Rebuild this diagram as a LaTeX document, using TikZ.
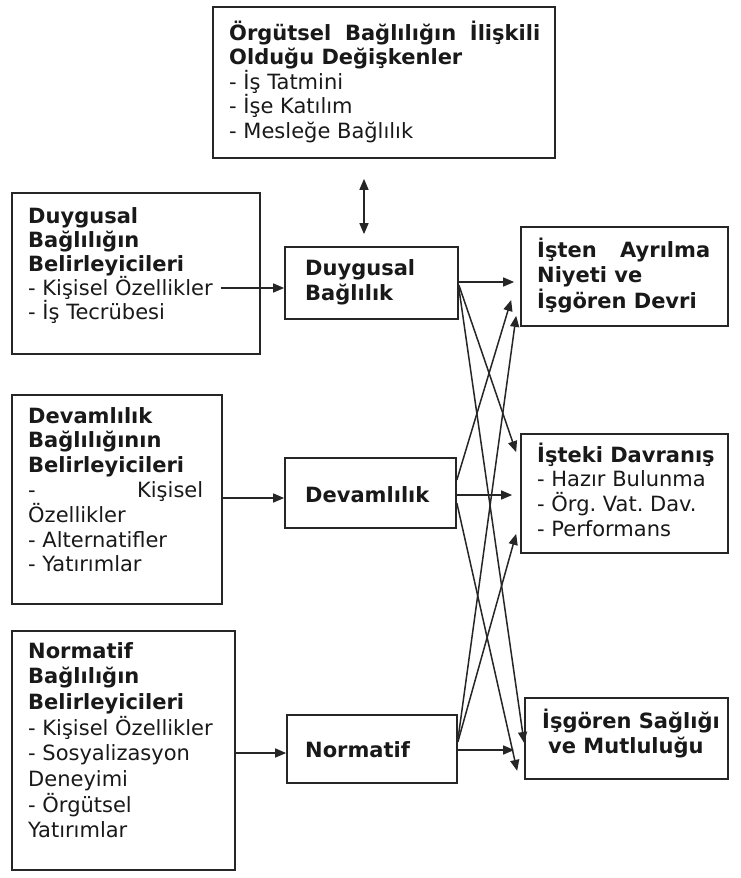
\documentclass[tikz,border=0pt]{standalone}
\usepackage{fontspec}
\setmainfont{DejaVu Sans}
\usetikzlibrary{arrows.meta,calc}
\newcommand\boxtext[3]{\parbox[t]{#1}{\fontsize{21}{#2}\selectfont\frenchspacing\raggedright #3}}
\begin{document}
\begin{tikzpicture}[x=1pt,y=-1pt,
  box/.style={draw=black!85, line width=1.7pt, inner sep=0pt, rectangle},
  lbl/.style={anchor=base west, inner sep=0pt, text=black!90},
  arr/.style={line width=1.5pt, draw=black!85, -{Triangle[length=11pt,width=9pt]}},
  darr/.style={line width=1.5pt, draw=black!85, {Triangle[length=11pt,width=9pt]}-{Triangle[length=11pt,width=9pt]}}
]
\useasboundingbox (0,0) rectangle (740,878);
\fill[white] (0,0) rectangle (740,878);

% boxes
\node[box, minimum width=342pt, minimum height=151pt] (top) at (384,82.5) {};
\node[box, minimum width=248pt, minimum height=161pt] (left1) at (136,273.5) {};
\node[box, minimum width=173pt, minimum height=72pt] (duy) at (371.5,283) {};
\node[box, minimum width=207pt, minimum height=99pt] (isten) at (624.5,276.5) {};
\node[box, minimum width=210pt, minimum height=209pt] (left2) at (117,499.5) {};
\node[box, minimum width=171pt, minimum height=70pt] (dev) at (370.5,493) {};
\node[box, minimum width=207pt, minimum height=119pt] (isteki) at (624.5,493.5) {};
\node[box, minimum width=223pt, minimum height=239pt] (left3) at (123.5,750.5) {};
\node[box, minimum width=170pt, minimum height=68pt] (norm) at (372,749) {};
\node[box, minimum width=203pt, minimum height=81pt] (saglik) at (626.5,738.5) {};

% texts
\node[lbl] (ttop) at (229,40) {\boxtext{320pt}{24.5pt}{%
  \textbf{\makebox[311pt][s]{Örgütsel Bağlılığın İlişkili}}\\
  \textbf{Olduğu Değişkenler}\\
  - İş Tatmini\\
  - İşe Katılım\\
  - Mesleğe Bağlılık}};
\node[lbl] (tleft1) at (28,223) {\boxtext{230pt}{24pt}{%
  \textbf{Duygusal}\\
  \textbf{Bağlılığın}\\
  \textbf{Belirleyicileri}\\
  - Kişisel Özellikler\\
  - İş Tecrübesi}};
\node[lbl] (tduy) at (305,275) {\boxtext{150pt}{25pt}{%
  \textbf{Duygusal}\\
  \textbf{Bağlılık}}};
\node[lbl] (tisten) at (537,257) {\boxtext{185pt}{25.5pt}{%
  \textbf{\makebox[173pt][s]{İşten Ayrılma}}\\
  \textbf{Niyeti ve}\\
  \textbf{İşgören Devri}}};
\node[lbl] (tleft2) at (28,423) {\boxtext{190pt}{24.8pt}{%
  \textbf{Devamlılık}\\
  \textbf{Bağlılığının}\\
  \textbf{Belirleyicileri}\\
  \makebox[175pt][s]{- Kişisel}\\
  Özellikler\\
  - Alternatifler\\
  - Yatırımlar}};
\node[lbl] (tdev) at (305,502) {\boxtext{150pt}{25pt}{\textbf{Devamlılık}}};
\node[lbl] (tisteki) at (537,462) {\boxtext{185pt}{24.7pt}{%
  \textbf{İşteki Davranış}\\
  - Hazır Bulunma\\
  - Örg. Vat. Dav.\\
  - Performans}};
\node[lbl] (tleft3) at (28,658) {\boxtext{205pt}{25.7pt}{%
  \textbf{Normatif}\\
  \textbf{Bağlılığın}\\
  \textbf{Belirleyicileri}\\
  - Kişisel Özellikler\\
  - Sosyalizasyon\\
  Deneyimi\\
  - Örgütsel\\
  Yatırımlar}};
\node[lbl] (tnorm) at (305,757) {\boxtext{150pt}{25pt}{\textbf{Normatif}}};
\node[lbl] (tsaglik) at (542,728) {\boxtext{185pt}{25pt}{%
  \textbf{İşgören Sağlığı}\\
  \hspace*{6pt}\textbf{ve Mutluluğu}}};

% connectors
\draw[arr] ($(left1.east)+(-40,14.5)$) -- ($(duy.west)+(0,5)$);
\draw[arr] ($(left2.east)+(0,-1.5)$) -- ($(dev.west)+(0,5)$);
\draw[arr] ($(left3.east)+(0,2.5)$) -- ($(norm.west)+(0,4)$);
\draw[darr] ($(top.south)+(-20,20)$) -- ($(duy.north)+(-7.5,-12)$);

\draw[arr] ($(duy.east)+(0,-1)$) -- ($(isten.west)+(-6,5.5)$);
\draw[arr] ($(dev.east)+(0,2)$) -- ($(isteki.west)+(-8,1.5)$);
\draw[arr] ($(norm.east)+(0,1)$) -- ($(saglik.west)+(-10,11.5)$);

\draw[arr] ($(duy.east)+(0,2)$) -- ($(isteki.north west)+(-4,19)$);
\draw[arr] ($(duy.east)+(0,5)$) -- ($(saglik.west)+(0,4.5)$);
\draw[arr] ($(dev.east)+(0,-13)$) -- ($(isten.west)+(-9,23.5)$);
\draw[arr] ($(dev.east)+(0,10)$) -- ($(saglik.south west)+(-7,-9)$);
\draw[arr] ($(norm.east)+(0,-9)$) -- ($(isten.south west)+(-4,-11)$);
\draw[arr] ($(norm.east)+(0,-7)$) -- ($(isteki.south west)+(-4,-20)$);
\end{tikzpicture}
\end{document}
